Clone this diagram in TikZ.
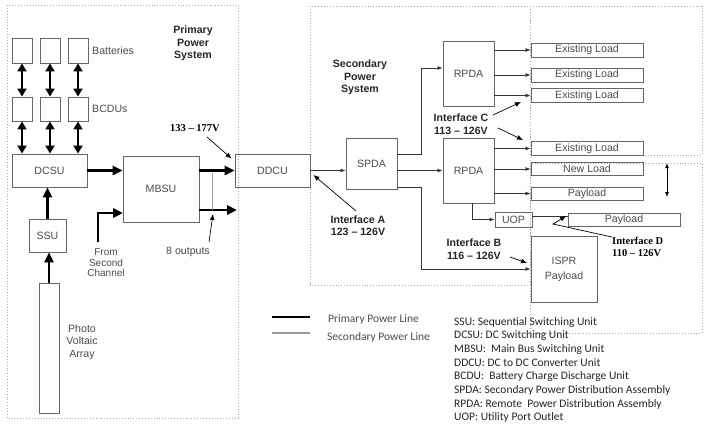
\documentclass[tikz,border=0pt]{standalone}
\usepackage{fontspec}
\setmainfont{Liberation Sans}
\newfontfamily\tnr{Liberation Serif}
\newfontfamily\calib{Carlito}
\usetikzlibrary{arrows.meta,calc}
\begin{document}
\begin{tikzpicture}[x=1pt,y=-1pt,
  box/.style={draw=black!60,line width=0.9pt,inner sep=0pt,text=black!70,font=\fontsize{10.6}{12}\selectfont,align=center},
  region/.style={draw=black!35,dotted,line width=0.9pt},
  pline/.style={line width=2.8pt,black,-{Triangle[length=10pt,width=9pt]}},
  pdouble/.style={line width=2.8pt,black,{Triangle[length=8pt,width=9pt]}-{Triangle[length=8pt,width=9pt]}},
  sline/.style={line width=0.8pt,black!80,-{Latex[length=5pt,width=4pt]}},
  ann/.style={line width=0.7pt,black,-{Latex[length=6pt,width=5pt]}},
  lbl/.style={text=black!70,font=\fontsize{10.6}{12.5}\selectfont,align=center,inner sep=0pt},
  blbl/.style={text=black!85,font=\bfseries\fontsize{10.6}{12.5}\selectfont,align=center,inner sep=0pt},
  tlbl/.style={text=black,font=\tnr\bfseries\fontsize{10.5}{12}\selectfont,align=left,inner sep=0pt},
  leg/.style={text=black!85,font=\calib\fontsize{11.5}{13}\selectfont,inner sep=0pt,anchor=base west},
]
\path[fill=white,use as bounding box] (0,0) rectangle (707,426);

% regions
\draw[region] (7,5) rectangle (238,418);
\draw[region] (310,6) rectangle (530,285);
\draw[region] (530,6) rectangle (702,155);
\draw[region] (530,163) rectangle (702,333);

% primary system nodes
\foreach \i/\x in {1/22,2/50,3/78}{
  \node[box,minimum width=20,minimum height=25] (b\i) at (\x,50.5) {};
  \node[box,minimum width=20,minimum height=24] (d\i) at (\x,109) {};
}
\node[lbl,anchor=west] (batt) at (92,51) {Batteries};
\node[lbl,anchor=west] (bcdus) at (92,109) {BCDUs};
\node[box,minimum width=75,minimum height=33] (dcsu) at (49.5,170.5) {DCSU};
\node[box,minimum width=76,minimum height=66] (mbsu) at (161,189) {MBSU};
\node[box,minimum width=37,minimum height=33] (ssu) at (47.5,235.5) {SSU};
\node[box,minimum width=20,minimum height=130] (pv) at (49,348) {};
\node[lbl] (pvl) at (82,342) {Photo\\Voltaic\\Array};
\node[blbl] (pps) at (193,43.5) {Primary\\Power\\System};
\node[tlbl] (v1) at (195,128) {133 – 177V};
\node[lbl,font=\fontsize{10}{10.5}\selectfont] (fsc) at (106,263) {From\\Second\\Channel};
\node[lbl] (outs) at (188,252) {8 outputs};

% secondary
\node[box,minimum width=75,minimum height=33] (ddcu) at (272.5,170.5) {DDCU};
\node[box,minimum width=51,minimum height=51] (spda) at (371.5,163.5) {SPDA};
\node[box,minimum width=51,minimum height=65] (rpda1) at (468.5,73.5) {RPDA};
\node[box,minimum width=51,minimum height=65] (rpda2) at (468.5,170.5) {RPDA};
\node[blbl] (sps) at (360,77.5) {Secondary\\Power\\System};

% loads
\node[box,minimum width=112,minimum height=14] (el1) at (587,50) {Existing Load};
\node[box,minimum width=112,minimum height=14] (el2) at (587,75) {Existing Load};
\node[box,minimum width=112,minimum height=14] (el3) at (587,95.5) {Existing Load};
\node[box,minimum width=112,minimum height=14] (el4) at (587,148.5) {Existing Load};
\node[box,minimum width=112,minimum height=13] (nl) at (587,169) {New Load};
\node[box,minimum width=112,minimum height=13] (pl1) at (587,193.5) {Payload};
\node[box,minimum width=37,minimum height=15] (uop) at (513.5,219.5) {UOP};
\node[box,minimum width=112,minimum height=13] (pl2) at (624,219.5) {Payload};
\node[box,minimum width=66,minimum height=66,font=\fontsize{10.6}{15}\selectfont] (ispr) at (564,269) {ISPR\\Payload};

% interface labels
\node[blbl] (ia) at (358,225.5) {Interface A\\123 – 126V};
\node[blbl] (ic) at (461,124) {Interface C\\113 – 126V};
\node[blbl] (ib) at (474,249) {Interface B\\116 – 126V};
\node[tlbl,anchor=west] (id) at (612,247) {Interface D\\110 – 126V};

% primary power lines
\foreach \i in {1,2,3}{
  \draw[pdouble] (b\i.south) -- (d\i.north);
  \draw[pdouble] (d\i.south) -- (d\i.south |- dcsu.north);
}
\draw[pline] (dcsu.east) -- (dcsu.east -| mbsu.west);
\draw[pline] (ssu.north) -- (ssu.north |- dcsu.south);
\draw[pline] (pv.north) -- (pv.north |- ssu.south);
\draw[pline] (mbsu.east |- ddcu.west) -- (ddcu.west);
\coordinate (o2) at (237,210);
\draw[pline] (o2 -| mbsu.east) -- (o2);
\coordinate (sc) at (98,242);
\draw[pline] (sc) -- ++(0,-29) -- ++(25,0);
\coordinate (g1) at (212,173);
\coordinate (g2) at (212,210);
\draw[black!40,line width=0.9pt] (g1) -- (g2);

% secondary lines
\draw[sline] (ddcu.east) -- (ddcu.east -| spda.west);
\draw[sline] (spda.east |- ddcu.east) -- (rpda2.west |- ddcu.east);
\draw[sline] (spda.east) ++(0,-9.5) -- ++(24,0) |- ([yshift=5.5pt]rpda1.west);
\draw[sline] (spda.east) ++(0,23.5) -- ++(24,0) |- (ispr.west);
\foreach \l in {el1,el2,el3}{ \draw[sline] (rpda1.east |- \l.west) -- (\l.west); }
\foreach \l in {el4,nl,pl1}{ \draw[sline] (rpda2.east |- \l.west) -- (\l.west); }
\draw[sline] ([xshift=3.5pt]rpda2.south) |- (uop.west);
\draw[line width=0.8pt,black!80] ([yshift=3.5pt]uop.east) -- ([yshift=3.5pt]uop.east -| pl2.west);

% annotation arrows
\draw[ann] ([shift={(12,9)}]v1.center) -- ([shift={(-3,5)}]ddcu.north west);
\draw[ann] ([shift={(21,-10)}]outs.center) -- ([shift={(25,-38)}]outs.center);
\draw[ann] ([shift={(-2,-14.5)}]ia.center) -- ([shift={(3,4.5)}]ddcu.east);
\draw[ann] ([shift={(32,-9)}]ic.center) -- ([shift={(60,-22)}]ic.center);
\draw[ann] ([shift={(37,4)}]ic.center) -- ([shift={(62,16)}]ic.center);
\draw[ann] ([shift={(36,8)}]ib.center) -- ([shift={(53,14)}]ib.center);
\draw[ann] (id.north west) -- ++(-59,-13) -- ++(13,-8);
\coordinate (da) at (667,163);
\coordinate (db) at (667,197);
\draw[line width=0.8pt,black,{Latex[length=5pt,width=4pt]}-{Latex[length=5pt,width=4pt]}] (da) -- (db);

% legend
\coordinate (la) at (272,317); \coordinate (lb) at (310,317);
\coordinate (lc) at (272,333); \coordinate (ld) at (310,333);
\draw[line width=2.8pt] (la) -- (lb);
\draw[line width=1.2pt,black!40] (lc) -- (ld);
\node[leg,text=black!70,anchor=west] (lp) at (328,319) {Primary Power Line};
\node[leg,text=black!70,anchor=west] (ls) at (327,337) {Secondary Power Line};

\node[leg] (t1) at (454,325) {SSU: Sequential Switching Unit};
\node[leg] (t2) at (454,338.7) {DCSU: DC Switching Unit};
\node[leg] (t3) at (454,352.4) {MBSU:\ \ Main Bus Switching Unit};
\node[leg] (t4) at (454,366.1) {DDCU: DC to DC Converter Unit};
\node[leg] (t5) at (454,379.8) {BCDU:\ \ Battery Charge Discharge Unit};
\node[leg] (t6) at (454,393.5) {SPDA: Secondary Power Distribution Assembly};
\node[leg] (t7) at (454,407.2) {RPDA: Remote\ \ Power Distribution Assembly};
\node[leg] (t8) at (454,420.9) {UOP: Utility Port Outlet};
\end{tikzpicture}
\end{document}
